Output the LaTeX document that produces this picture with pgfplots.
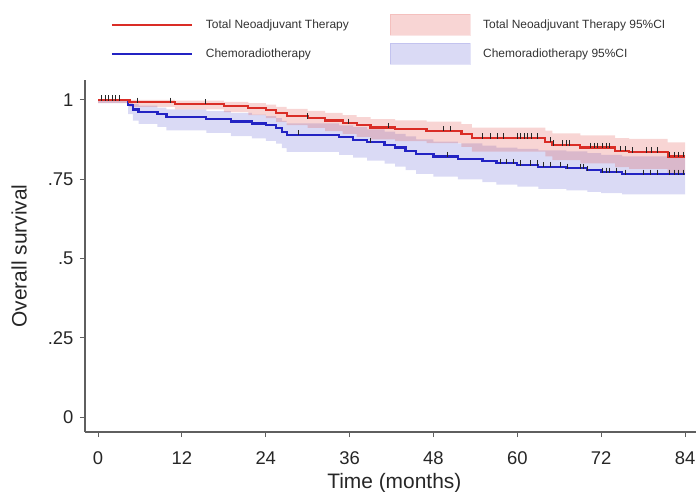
\documentclass[border=0pt]{standalone}
\usepackage{fontspec}
\setmainfont{Liberation Sans}
\usepackage{pgfplots}
\usepackage{pgfplotstable}
\pgfplotsset{compat=1.18}
\usepgfplotslibrary{fillbetween}

\definecolor{tntred}{RGB}{218,45,38}
\definecolor{crtblue}{RGB}{35,35,195}
\definecolor{axisgray}{RGB}{95,95,95}

\pgfplotsset{
    lineleg/.style={legend image code/.code={\draw[##1] (0bp,0bp) -- (80bp,0bp);}},
    boxleg/.style={legend image code/.code={\draw[##1] (0bp,-10.5bp) rectangle (80bp,10.5bp);}},
}

% Kaplan-Meier steps: time, survival, lower and upper 95% CI
\pgfplotstableread{
t s lo hi
0 1.000 0.990 1.000
4.5 0.993 0.978 1.000
11 0.988 0.970 0.998
18 0.982 0.962 0.994
21.5 0.975 0.952 0.990
24 0.968 0.943 0.985
25.5 0.958 0.931 0.978
27 0.950 0.921 0.972
30 0.943 0.912 0.966
32.5 0.935 0.902 0.959
35 0.927 0.893 0.952
37 0.920 0.884 0.946
39 0.913 0.876 0.940
42.5 0.908 0.870 0.936
47 0.903 0.864 0.932
52 0.893 0.852 0.924
53.5 0.880 0.837 0.913
64 0.868 0.822 0.903
65 0.858 0.810 0.895
69 0.850 0.800 0.888
74 0.840 0.788 0.880
76 0.836 0.783 0.877
81.5 0.822 0.766 0.866
84 0.822 0.766 0.866
}\tnt

\pgfplotstableread{
t s lo hi
0 1.000 0.990 1.000
4.3 0.985 0.955 0.996
5 0.970 0.935 0.987
5.8 0.962 0.925 0.982
8.5 0.955 0.915 0.976
9.8 0.946 0.904 0.970
15.5 0.940 0.896 0.965
19 0.932 0.886 0.959
22 0.926 0.879 0.954
24 0.920 0.871 0.949
25.5 0.912 0.862 0.943
26.3 0.900 0.848 0.934
27 0.890 0.836 0.926
34.5 0.882 0.827 0.920
36.5 0.875 0.818 0.914
38.5 0.867 0.809 0.907
41 0.858 0.799 0.900
42.5 0.850 0.790 0.893
44 0.840 0.779 0.885
45.5 0.830 0.767 0.876
48 0.822 0.758 0.869
51.5 0.815 0.750 0.863
55 0.807 0.741 0.856
57 0.800 0.733 0.850
60 0.795 0.727 0.846
63 0.789 0.720 0.841
67 0.785 0.715 0.838
70 0.778 0.710 0.832
72 0.772 0.706 0.827
75 0.766 0.702 0.822
84 0.766 0.702 0.822
}\crt

% censored observations
\pgfplotstableread{
t s
0.5 1.0
1 1.0
1.5 1.0
2 1.0
2.5 1.0
3 1.0
5.7 0.993
10.3 0.993
15.3 0.988
30 0.943
35.8 0.927
41.5 0.913
49.4 0.903
50.4 0.903
55 0.880
56.1 0.880
57.1 0.880
58 0.880
60 0.880
60.5 0.880
61 0.880
61.5 0.880
62 0.880
62.8 0.880
64.7 0.868
65.1 0.858
66.4 0.858
67 0.858
67.5 0.858
70.4 0.850
71 0.850
71.4 0.850
72.2 0.850
72.7 0.850
73.2 0.850
74.7 0.840
75.4 0.840
76.5 0.836
78.5 0.836
79.2 0.836
80 0.836
81.8 0.822
82.4 0.822
83 0.822
83.7 0.822
}\tntcens

\pgfplotstableread{
t s
1 1.0
2 1.0
3 1.0
28.6 0.890
39 0.867
50 0.822
57.5 0.800
58.5 0.800
59.5 0.800
60.4 0.795
61.8 0.795
62.8 0.795
63.7 0.789
64.7 0.789
66.1 0.789
67.1 0.785
69 0.785
69.5 0.785
70 0.778
72.2 0.772
72.7 0.772
73.2 0.772
74.2 0.772
75.5 0.766
78 0.766
79 0.766
80 0.766
81.8 0.766
82.4 0.766
83 0.766
83.7 0.766
}\crtcens

\begin{document}
\begin{tikzpicture}
\begin{axis}[
    at={(0,0)}, anchor=south west,
    scale only axis,
    width=610.6bp, height=352bp,
    xmin=-1.86, xmax=85.5,
    ymin=-0.047, ymax=1.063,
    axis lines=left,
    axis line style={-, draw=axisgray, line width=1.3bp},
    xtick={0,12,24,36,48,60,72,84},
    ytick={0,0.25,0.5,0.75,1},
    yticklabels={0,.25,.5,.75,1},
    tick style={draw=axisgray, line width=1bp},
    major tick length=5bp,
    tick align=outside,
    /pgf/number format/assume math mode=true,
    ticklabel style={font=\fontsize{18.5}{20}\selectfont, text=black!85},
    xticklabel style={yshift=-11bp},
    yticklabel style={xshift=-3bp},
    xlabel={Time (months)},
    ylabel={Overall survival},
    every axis x label/.style={at={(axis description cs:0.5,0)}, anchor=center,
        xshift=4bp, yshift=-51bp, font=\fontsize{21}{23}\selectfont, text=black!85},
    every axis y label/.style={at={(axis description cs:-0.108,0.5)}, rotate=90,
        anchor=center, font=\fontsize{21}{23}\selectfont, text=black!85},
    legend columns=2,
    legend style={at={(axis description cs:0.0373,1.194)}, anchor=north west,
        draw=none, fill=none, font=\fontsize{12}{14}\selectfont,
        text=black!80, row sep=8bp, cells={anchor=west},
        /tikz/every odd column/.style={column sep=11bp},
        /tikz/column 2/.style={column sep=39bp}},
]
\addlegendimage{tntred, line width=2bp, lineleg}
\addlegendentry{Total Neoadjuvant Therapy}
\addlegendimage{fill=tntred, fill opacity=0.2, draw=tntred, draw opacity=0.12, boxleg}
\addlegendentry{Total Neoadjuvant Therapy 95\%CI}
\addlegendimage{crtblue, line width=2bp, lineleg}
\addlegendentry{Chemoradiotherapy}
\addlegendimage{fill=crtblue, fill opacity=0.17, draw=crtblue, draw opacity=0.12, boxleg}
\addlegendentry{Chemoradiotherapy 95\%CI}

% confidence bands
\addplot[const plot, draw=none, name path=bhi, forget plot] table[x=t, y=hi] {\crt};
\addplot[const plot, draw=none, name path=blo, forget plot] table[x=t, y=lo] {\crt};
\addplot[fill=crtblue, fill opacity=0.17, forget plot] fill between[of=bhi and blo];
\addplot[const plot, draw=none, name path=rhi, forget plot] table[x=t, y=hi] {\tnt};
\addplot[const plot, draw=none, name path=rlo, forget plot] table[x=t, y=lo] {\tnt};
\addplot[fill=tntred, fill opacity=0.2, forget plot] fill between[of=rhi and rlo];

% survival curves
\addplot[const plot, crtblue, line width=2.2bp, forget plot] table[x=t, y=s] {\crt};
\addplot[const plot, tntred, line width=2.2bp, forget plot] table[x=t, y=s] {\tnt};

% censor ticks
\addplot[only marks, mark=|, mark size=2.6bp, black!85, mark options={line width=0.8bp, yshift=2bp}, forget plot] table[x=t, y=s] {\crtcens};
\addplot[only marks, mark=|, mark size=2.6bp, black!85, mark options={line width=0.8bp, yshift=2bp}, forget plot] table[x=t, y=s] {\tntcens};
\end{axis}
\pgfresetboundingbox
\path[use as bounding box] (-85bp,-60bp) rectangle (612bp,432bp);
\end{tikzpicture}
\end{document}
